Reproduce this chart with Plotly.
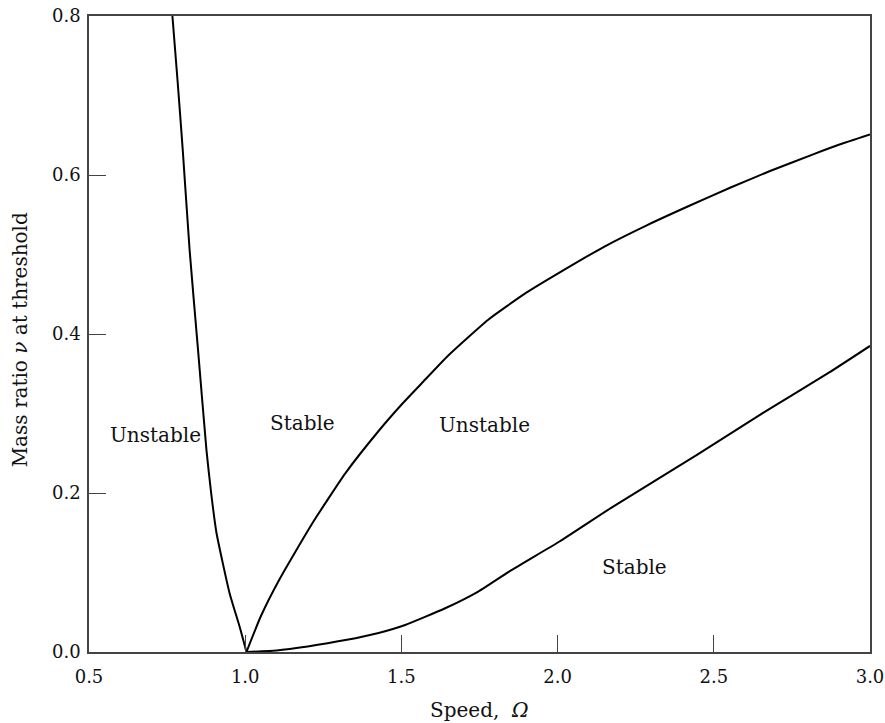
import plotly.graph_objects as go

# Left boundary (unstable / stable)
left_x = [0.767, 0.784, 0.800, 0.822, 0.849, 0.876, 0.891, 0.908, 0.950, 0.982, 1.004]
left_y = [0.800, 0.716, 0.632, 0.506, 0.380, 0.254, 0.200, 0.150, 0.074, 0.032, 0.000]

# Upper right boundary
upper_x = [1.004, 1.05, 1.109, 1.215, 1.321, 1.427, 1.50, 1.565, 1.65, 1.778, 1.90, 2.022, 2.15, 2.287, 2.42, 2.552, 2.68, 2.818, 2.90, 3.0]
upper_y = [0.000, 0.045, 0.091, 0.162, 0.225, 0.278, 0.311, 0.338, 0.373, 0.418, 0.452, 0.481, 0.510, 0.537, 0.561, 0.584, 0.605, 0.626, 0.638, 0.651]

# Lower right boundary
lower_x = [1.004, 1.10, 1.20, 1.321, 1.427, 1.512, 1.640, 1.746, 1.852, 2.006, 2.170, 2.446, 2.659, 2.871, 3.0]
lower_y = [0.000, 0.002, 0.007, 0.015, 0.024, 0.034, 0.055, 0.076, 0.103, 0.139, 0.181, 0.248, 0.301, 0.352, 0.385]

# Region labels
label_text = ["Unstable", "Stable", "Unstable", "Stable"]
label_x = [0.714, 1.183, 1.765, 2.245]
label_y = [0.273, 0.288, 0.286, 0.107]

x_ticks = [0.5, 1.0, 1.5, 2.0, 2.5, 3.0]
y_ticks = [0.0, 0.2, 0.4, 0.6, 0.8]

FONT = "DejaVu Serif"

fig = go.Figure()
for xs, ys in [(left_x, left_y), (upper_x, upper_y), (lower_x, lower_y)]:
    fig.add_trace(go.Scatter(x=xs, y=ys, mode="lines",
                             line=dict(color="black", width=2, shape="spline", smoothing=0.5),
                             showlegend=False, hoverinfo="skip"))

for t, x, y in zip(label_text, label_x, label_y):
    fig.add_annotation(x=x, y=y, text=t, showarrow=False,
                       font=dict(family=FONT, size=20, color="#111"))

fig.add_annotation(xref="paper", yref="paper", x=0.5, y=0, yshift=-58,
                   xanchor="center", yanchor="middle",
                   text="Speed,  <i>Ω</i>", showarrow=False,
                   font=dict(family=FONT, size=20, color="#111"))
fig.add_annotation(xref="paper", yref="paper", x=0, xshift=-69, y=0.49,
                   xanchor="center", yanchor="middle",
                   text="Mass ratio <i>ν</i> at threshold", textangle=-90, showarrow=False,
                   font=dict(family=FONT, size=20, color="#111"))

axis_common = dict(showgrid=False, zeroline=False, showline=True, mirror=True,
                   linecolor="#444", linewidth=1.5, ticks="inside", ticklen=17,
                   tickcolor="#444", tickwidth=1, ticklabeloverflow="allow",
                   automargin=False,
                   tickfont=dict(family=FONT, size=18, color="#111"))

fig.update_xaxes(range=[0.5, 3.0], tickvals=x_ticks, ticklabelstandoff=8,
                 ticktext=[f"{v:.1f}" for v in x_ticks], **axis_common)
fig.update_yaxes(range=[0.0, 0.8], tickvals=y_ticks, ticklabelstandoff=3,
                 ticktext=[f"{v:.1f}" for v in y_ticks], **axis_common)

fig.update_layout(width=885, height=723,
                  margin=dict(l=89, r=15, t=16, b=71, autoexpand=False),
                  plot_bgcolor="white", paper_bgcolor="white")

fig.write_html("out.html")
